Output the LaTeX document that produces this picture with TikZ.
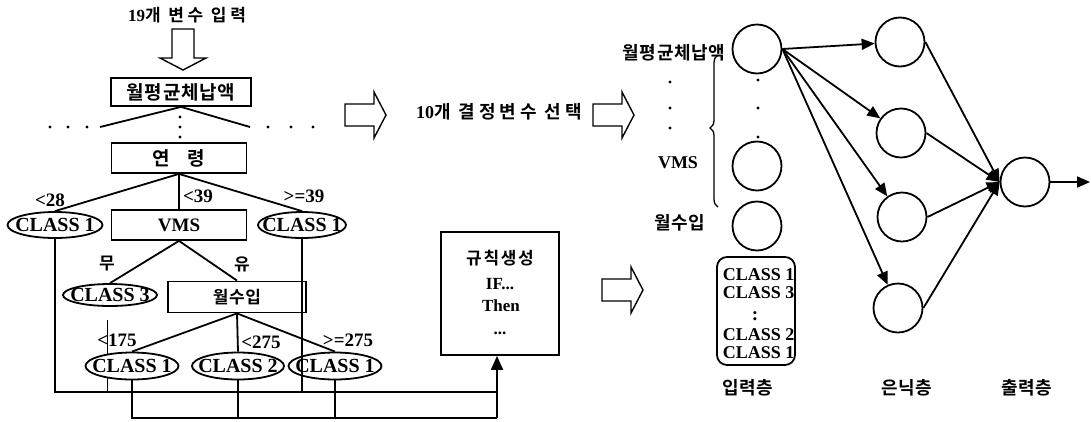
\documentclass[tikz,border=0pt]{standalone}
\usepackage{fontspec}
\setmainfont{Liberation Serif}
\newfontfamily\kr{Noto Sans CJK KR}[BoldFont={Noto Sans CJK KR Bold}]
\usetikzlibrary{shapes.geometric,arrows.meta,decorations.pathreplacing,backgrounds}
\newcommand\ctext[1]{\makebox[0pt]{#1}}
\newcommand\krs[2]{\kr\bfseries\fontsize{#1}{#1}\selectfont\addfontfeature{LetterSpace=#2}}
\begin{document}
\begin{tikzpicture}[x=1pt,y=-1pt, line width=1.8pt,
  tbox/.style={draw, fill=white, inner sep=0pt, minimum width=#1, minimum height=30, font=\krs{19}{4}},
  cls/.style={ellipse, draw, fill=white, inner sep=0pt, minimum width=93, minimum height=26, text height=13pt, text depth=0pt, font=\bfseries\fontsize{20}{20}\selectfont},
  lbl/.style={inner sep=0pt, text height=13pt, text depth=0pt, font=\bfseries\fontsize{19}{19}\selectfont},
  boxtxt/.style={inner sep=0pt, text height=12pt, text depth=0pt, anchor=west, font=\bfseries\fontsize{18}{18}\selectfont},
  klbl/.style={inner sep=0pt, font=\krs{18}{4}},
  neuron/.style={circle, draw, minimum size=49, inner sep=0pt},
  tip/.style={-{Triangle[length=13pt,width=11pt]}},
  harrow/.pic={\draw[line width=1.4pt, fill=white] (0,-11)--(29,-11)--(29,-23)--(41,0)--(29,23)--(29,11)--(0,11)--cycle;}
]
\useasboundingbox (0,0) rectangle (1091,421);

% ---- top input
\node[klbl, font=\krs{17}{22}] (t19) at (187,15) {{\rmfamily 19}개 변수 입력};
\pic[rotate=-90] at (183,29) {harrow};

% ---- decision tree
\node[tbox=140, minimum height=28] (b1) at (181,92) {월평균체납액};
\node[tbox=135] (b2) at (179,158) {연\hspace{18pt}령};
\node[cls, minimum width=95] (c1) at (55,225) {\ctext{CLASS 1}};
\node[tbox=135, font=\bfseries\fontsize{19}{19}\selectfont] (vms) at (179,225) {VMS};
\node[cls, minimum width=88] (c1r) at (302,225) {\ctext{CLASS 1}};
\node[cls, minimum width=94, minimum height=22] (c3) at (110,295) {\ctext{CLASS 3}};
\node[tbox=138, minimum height=31, font=\krs{17}{4}] (b3) at (237,297) {월수입};
\node[cls, minimum height=27] (c1b) at (132,366) {\ctext{CLASS 1}};
\node[cls, minimum height=27, minimum width=92] (c2) at (238,366) {\ctext{CLASS 2}};
\node[cls, minimum height=27] (c1c) at (335,366) {\ctext{CLASS 1}};

\coordinate (dl) at (100,127);
\coordinate (dr) at (250,127);
\draw (b1.south) -- (dl);
\draw (b1.south) -- (dr);
\foreach \x in {50,68,87,268,291,313} \fill (\x,127) circle (1.6pt);
\foreach \y in {117,127,137} \fill (180,\y) circle (1.6pt);

\draw (b2.south) -- (c1.north);
\draw (b2.south) -- (vms.north);
\draw (b2.south) -- (c1r.north);
\draw (vms.south) -- (c3.north);
\draw (vms.south) -- (b3.north);
\draw (b3.south) -- (c1b.north);
\draw (b3.south) -- (c2.north);
\draw (b3.south) -- (c1c.north);

\node[lbl] (l28) at (50,200) {<28};
\node[lbl] (l39) at (198,196) {<39};
\node[lbl] (lge39) at (304,196) {>=39};
\node[klbl, font=\krs{17}{0}] (lmu) at (107,264) {무};
\node[klbl, font=\krs{17}{0}] (lyu) at (242,264) {유};
\node[lbl] (l175) at (117,340) {<175};
\node[lbl] (l275) at (261,342) {<275};
\node[lbl] (lge275) at (348,340) {>=275};

% ---- rule box
\node[draw, fill=white, minimum width=118, minimum height=123, inner sep=0pt] (rule) at (500,293.5) {};
\node[klbl, font=\krs{17}{10}] (rt1) at (500,258) {규칙생성};
\node[lbl, font=\bfseries\fontsize{17}{17}\selectfont, text height=12pt] (rt2) at (500,283) {IF...};
\node[lbl, font=\bfseries\fontsize{17}{17}\selectfont, text height=12pt] (rt3) at (501,305) {Then};
\node[lbl, font=\bfseries\fontsize{17}{17}\selectfont, text height=3pt] (rt4) at (500,333) {...};

% ---- bottom connectors
\coordinate (busA) at (497,392);
\coordinate (busB) at (497,418);
\coordinate (c3drop) at (107,320);
\begin{scope}[on background layer]
  \draw (c3drop) -- (c3drop |- busA);
\end{scope}
\draw (c1.south) |- (busA);
\draw (c1r.south) -- (c1r.south |- busA);
\draw (c1b.south) |- (busB);
\draw (c2.south) -- (c2.south |- busB);
\draw (c1c.south) -- (c1c.south |- busB);
\draw[-{Triangle[length=14pt,width=12pt]}] (busB) -- (busB |- rule.south);

% ---- middle arrows and text
\pic at (345,115) {harrow};
\node[klbl, font=\krs{18}{22}] (sel) at (499,112) {{\rmfamily 10}개 결정변수 선택};
\pic at (593,115) {harrow};
\pic at (602,290) {harrow};

% ---- neural network
\node[neuron] (i1) at (757,49) {};
\node[neuron] (i2) at (757,166) {};
\node[neuron] (i3) at (757,226) {};
\foreach \y in {80,108,137} \fill (758,\y) circle (1.6pt);
\node[klbl] (li1) at (674,53) {월평균체납액};
\foreach \y in {82,108,128} \fill (670,\y) circle (1.6pt);
\node[lbl, font=\bfseries\fontsize{18}{18}\selectfont] (li2) at (678,162) {VMS};
\node[klbl] (li3) at (680,223) {월수입};
\draw[line width=1.3pt, decorate, decoration={brace, amplitude=8pt, aspect=0.52}] (718,207) -- (718,55);

\node[draw, rounded corners=10pt, minimum width=78, minimum height=108, inner sep=0pt] (cbox) at (756,311) {};
\begin{scope}
  \clip[rounded corners=10pt] (cbox.north west) rectangle (cbox.south east);
  \node[boxtxt] (k1) at (722,274) {CLASS 1};
  \node[boxtxt] (k2) at (722,292) {CLASS 3};
  \node[lbl, text height=12pt] (k3) at (755,314) {:};
  \node[boxtxt] (k4) at (722,334) {CLASS 2};
  \node[boxtxt] (k5) at (722,352) {CLASS 1};
\end{scope}

\node[neuron] (h1) at (900,42) {};
\node[neuron] (h2) at (901,133) {};
\node[neuron] (h3) at (902,217) {};
\node[neuron] (h4) at (898,308) {};
\node[neuron] (out) at (1025,182) {};
\foreach \h in {h1,h2,h3,h4} \draw[tip] (i1.east) -- (\h);
\foreach \h in {h1,h2,h3,h4} \draw[tip] (\h.east) -- (out.west);
\coordinate (oend) at (1090,182);
\draw[tip] (out.east) -- (oend);

\node[klbl] (lin) at (748,388) {입력층};
\node[klbl] (lhid) at (907,388) {은닉층};
\node[klbl] (lout) at (1027,388) {출력층};
\end{tikzpicture}
\end{document}
